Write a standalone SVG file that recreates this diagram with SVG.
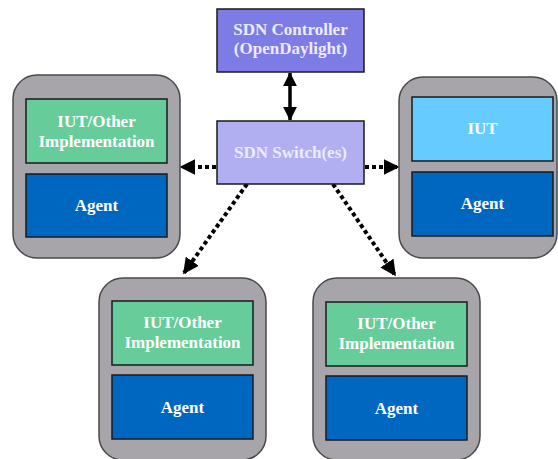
<svg xmlns="http://www.w3.org/2000/svg" width="558" height="459" viewBox="0 0 558 459">
<style>
.t{font-family:"Liberation Serif","Times New Roman",serif;font-weight:bold;font-size:17px;fill:#ffffff;text-anchor:middle}
.tl{fill:#ecebff}
.outer{fill:#a7a5a9;stroke:#4a4a4a;stroke-width:1.5}
.inner{stroke:#1a1a1a;stroke-width:1.5}
.green{fill:#66cc9a}
.agent{fill:#0067c0}
.iut{fill:#66ccff}
.dot{stroke:#000;stroke-width:4;stroke-dasharray:4 3;fill:none}
</style>
<defs>
<marker id="ah" markerWidth="4" markerHeight="4" refX="3.6" refY="2" orient="auto" markerUnits="strokeWidth">
<path d="M0,0 L4,2 L0,4 z" fill="#000"/>
</marker>
<marker id="ah2" markerWidth="4" markerHeight="4" refX="3.8" refY="2" orient="auto-start-reverse" markerUnits="strokeWidth">
<path d="M0,0 L4,2 L0,4 z" fill="#000"/>
</marker>
</defs>
<g id="connectors">
<line x1="290" y1="73" x2="290" y2="120" stroke="#000" stroke-width="3.5" marker-start="url(#ah2)" marker-end="url(#ah2)"/>
<line class="dot" x1="216" y1="167" x2="181" y2="167" marker-end="url(#ah)"/>
<line class="dot" x1="365" y1="167" x2="398" y2="167" marker-end="url(#ah)"/>
<line class="dot" x1="247" y1="184" x2="184" y2="273" marker-end="url(#ah)"/>
<line class="dot" x1="333" y1="184" x2="395" y2="275" marker-end="url(#ah)"/>
</g>
<g id="controller">
<rect x="217" y="9" width="147" height="63" fill="#7d7be4" stroke="#1a1a1a" stroke-width="1.5"/>
<text class="t tl" x="290.5" y="35">SDN Controller</text>
<text class="t tl" x="290.5" y="54">(OpenDaylight)</text>
</g>
<g id="switch">
<rect x="217" y="121" width="147" height="63" fill="#b1aff2" stroke="#1a1a1a" stroke-width="1.5"/>
<text class="t tl" x="290.5" y="158">SDN Switch(es)</text>
</g>
<g id="node-left">
<rect class="outer" x="13" y="75" width="167" height="183" rx="24"/>
<rect class="inner green" x="26" y="99" width="141" height="64"/>
<text class="t" x="96.5" y="127">IUT/Other</text>
<text class="t" x="96.5" y="147">Implementation</text>
<rect class="inner agent" x="26" y="174" width="141" height="63"/>
<text class="t" x="96.5" y="211">Agent</text>
</g>
<g id="node-right">
<rect class="outer" x="399" y="77" width="158" height="181" rx="24"/>
<rect class="inner iut" x="412" y="97" width="141" height="64"/>
<text class="t" x="482.5" y="134">IUT</text>
<rect class="inner agent" x="412" y="172" width="141" height="64"/>
<text class="t" x="482.5" y="209">Agent</text>
</g>
<g id="node-bottom-left">
<rect class="outer" x="99" y="278" width="167" height="182" rx="24"/>
<rect class="inner green" x="112" y="301" width="141" height="64"/>
<text class="t" x="182.5" y="328">IUT/Other</text>
<text class="t" x="182.5" y="348">Implementation</text>
<rect class="inner agent" x="112" y="375" width="141" height="64"/>
<text class="t" x="182.5" y="413">Agent</text>
</g>
<g id="node-bottom-right">
<rect class="outer" x="313" y="278" width="167" height="182" rx="24"/>
<rect class="inner green" x="326" y="302" width="141" height="64"/>
<text class="t" x="396.5" y="329">IUT/Other</text>
<text class="t" x="396.5" y="349">Implementation</text>
<rect class="inner agent" x="326" y="376" width="141" height="64"/>
<text class="t" x="396.5" y="414">Agent</text>
</g>
</svg>
